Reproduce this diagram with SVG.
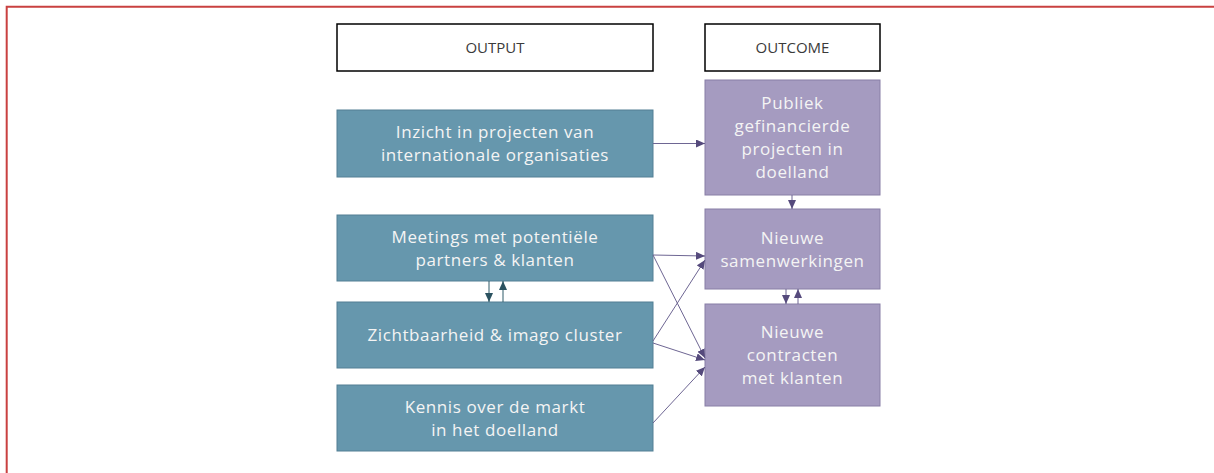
<svg xmlns="http://www.w3.org/2000/svg" width="1214" height="473" viewBox="0 0 1214 473">
<style>
.hdr{fill:#fff;stroke:#000;stroke-width:1.5}
.hdrt{font-family:"Open Sans","Liberation Sans",sans-serif;font-size:15px;fill:#3a3a3a;text-anchor:middle}
.out{fill:#6697ad;stroke:#527f94;stroke-width:1}
.oc{fill:#a59bc0;stroke:#887ea6;stroke-width:1}
.t{font-family:"Open Sans","Liberation Sans",sans-serif;font-size:17px;letter-spacing:0.6px;fill:#f4f4f4;text-anchor:middle}
.c{fill:none;stroke:#6e6693;stroke-width:1}
.ct{fill:none;stroke:#2f5a68;stroke-width:1}
</style>
<defs>
<marker id="ap" markerWidth="9" markerHeight="8" refX="9" refY="4" orient="auto" markerUnits="userSpaceOnUse"><path d="M0,0 L9,4 L0,8 z" fill="#554a7c"/></marker>
<marker id="at" markerWidth="9" markerHeight="8" refX="9" refY="4" orient="auto" markerUnits="userSpaceOnUse"><path d="M0,0 L9,4 L0,8 z" fill="#2b5260"/></marker>
</defs>
<rect width="1214" height="473" fill="#fff"/>
<path d="M6.7,473 V6.7 H1214" fill="none" stroke="#c94140" stroke-width="2"/>
<g id="hdr-output"><rect class="hdr" x="337" y="24" width="316" height="47"/><text class="hdrt" x="495" y="53">OUTPUT</text></g>
<g id="hdr-outcome"><rect class="hdr" x="705" y="24" width="175" height="47"/><text class="hdrt" x="792.5" y="53">OUTCOME</text></g>
<g id="n-inzicht"><rect class="out" x="337" y="110" width="316" height="67"/><text class="t" x="495" y="138">Inzicht in projecten van</text><text class="t" x="495" y="161">internationale organisaties</text></g>
<g id="n-meetings"><rect class="out" x="337" y="215" width="316" height="66"/><text class="t" x="495" y="243">Meetings met potentiële</text><text class="t" x="495" y="266">partners &amp; klanten</text></g>
<g id="n-zicht"><rect class="out" x="337" y="302" width="316" height="66"/><text class="t" x="495" y="341">Zichtbaarheid &amp; imago cluster</text></g>
<g id="n-kennis"><rect class="out" x="337" y="385" width="316" height="66"/><text class="t" x="495" y="413">Kennis over de markt</text><text class="t" x="495" y="436">in het doelland</text></g>
<g id="n-publiek"><rect class="oc" x="705" y="80" width="175" height="115"/><text class="t" x="792.5" y="109">Publiek</text><text class="t" x="792.5" y="132">gefinancierde</text><text class="t" x="792.5" y="155">projecten in</text><text class="t" x="792.5" y="178">doelland</text></g>
<g id="n-samen"><rect class="oc" x="705" y="209" width="175" height="80"/><text class="t" x="792.5" y="244">Nieuwe</text><text class="t" x="792.5" y="267">samenwerkingen</text></g>
<g id="n-contract"><rect class="oc" x="705" y="304" width="175" height="102"/><text class="t" x="792.5" y="338">Nieuwe</text><text class="t" x="792.5" y="361">contracten</text><text class="t" x="792.5" y="384">met klanten</text></g>
<g id="connectors">
<line class="c" x1="653" y1="143.5" x2="705" y2="143.5" marker-end="url(#ap)"/>
<line class="c" x1="792" y1="195" x2="792" y2="209" marker-end="url(#ap)"/>
<line class="c" x1="786" y1="289" x2="786" y2="304" marker-end="url(#ap)"/>
<line class="c" x1="798" y1="304" x2="798" y2="289" marker-end="url(#ap)"/>
<line class="ct" x1="489" y1="281" x2="489" y2="302" marker-end="url(#at)"/>
<line class="ct" x1="503" y1="302" x2="503" y2="281" marker-end="url(#at)"/>
<line class="c" x1="653" y1="255" x2="705" y2="256" marker-end="url(#ap)"/>
<line class="c" x1="653" y1="255" x2="705" y2="358" marker-end="url(#ap)"/>
<line class="c" x1="653" y1="341" x2="705" y2="260" marker-end="url(#ap)"/>
<line class="c" x1="653" y1="343" x2="705" y2="360" marker-end="url(#ap)"/>
<line class="c" x1="653" y1="423" x2="705" y2="367" marker-end="url(#ap)"/>
</g>
</svg>
